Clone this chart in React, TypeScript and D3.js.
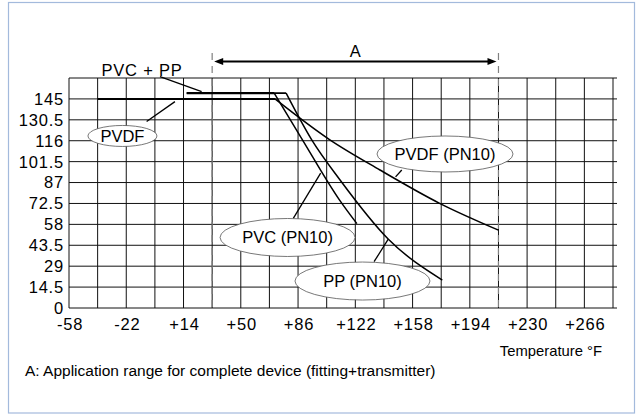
import * as d3 from "d3";

// axis ticks (°F / psi)
const tempTicks = [-58, -22, 14, 50, 86, 122, 158, 194, 230, 266];
const pressureTicks = [0, 14.5, 29, 43.5, 58, 72.5, 87, 101.5, 116, 130.5, 145];
const tempDomain: [number, number] = [-58, 284];
const pressureDomain: [number, number] = [0, 159.5];
const gridStepT = 18;
const gridStepP = 14.5;

// application range A (°F)
const rangeA: [number, number] = [32, 212];

// curves [°F, psi]
const pvdfFlat = [[-40, 145], [71.5, 145]];
const pvdfDerate = [[71.5, 145], [106, 116.6], [137.5, 95.7], [175, 72.6], [212, 54]];
const pvcFlat = [[16, 149], [71, 149]];
const pvcDerate = [[71, 149], [88, 118], [112, 75], [123, 58.5]];
const ppFlat = [[16, 149], [78.5, 149]];
const ppDerate = [[78.5, 149], [94.6, 116.6], [112.4, 88.8], [142.8, 47.7], [176.7, 19.4]];

// callouts, in data units
const callouts = [
  { text: "PVDF", c: [-24.4, 119.3], rx: 34.5, ry: 10.5, from: [-9.2, 129.3], to: [8.6, 143.1] },
  { text: "PVDF (PN10)", c: [178.4, 106.8], rx: 68, ry: 18, from: [151.2, 95.7], to: [147.3, 90.9] },
  { text: "PVC (PN10)", c: [79.4, 48.9], rx: 67.5, ry: 19, from: [83, 62.2], to: [100.2, 93.5] },
  { text: "PP (PN10)", c: [126.5, 18.7], rx: 67.5, ry: 19, from: [133.8, 32.1], to: [142.7, 47.7] },
];
const topLabel = { text: "PVC + PP", at: [-12.1, 165.1], from: [-0.8, 160.5], to: [25.4, 150.1] };

const FONT = "'Liberation Sans', Arial, Helvetica, sans-serif";

export default function App() {
  const W = 642, H = 415;
  const left = 69, right = 613, top = 78, bottom = 308;

  const x = d3.scaleLinear(tempDomain, [left, right]);
  const y = d3.scaleLinear(pressureDomain, [bottom, top]);

  const straight = d3.line<number[]>().x((d) => x(d[0])).y((d) => y(d[1]));
  const smooth = d3
    .line<number[]>()
    .x((d) => x(d[0]))
    .y((d) => y(d[1]))
    .curve(d3.curveMonotoneX);

  const vGrid = d3.range(tempDomain[0], tempDomain[1] + 1, gridStepT);
  const hGrid = d3.range(pressureDomain[0], pressureDomain[1] + 0.1, gridStepP);

  const arrowY = top - 16.5;
  const xa0 = x(rangeA[0]), xa1 = x(rangeA[1]);

  return (
    <svg width={W} height={H} style={{ position: "absolute", left: 0, top: 0, background: "#fff" }}>
      <rect x={8.5} y={2.5} width={626} height={410.5} fill="#fff" stroke="#a3badc" strokeWidth={1.2} />

      {/* grid */}
      <g stroke="#111" strokeWidth={1}>
        {hGrid.map((v) => (
          <line key={"h" + v} x1={left} x2={right + 4} y1={y(v)} y2={y(v)} />
        ))}
        {vGrid.map((v) => (
          <line key={"v" + v} x1={x(v)} x2={x(v)} y1={top} y2={bottom} />
        ))}
      </g>

      {/* application range */}
      <g stroke="#808080" strokeWidth={1.2} strokeDasharray="7,6">
        {rangeA.map((v) => (
          <line key={"d" + v} x1={x(v)} x2={x(v)} y1={top - 25} y2={bottom} />
        ))}
      </g>
      <line x1={xa0 + 6} x2={xa1 - 6} y1={arrowY} y2={arrowY} stroke="#000" strokeWidth={2} />
      <path d={`M${xa0 + 2},${arrowY} l9,-3.5 v7 z`} fill="#000" />
      <path d={`M${xa1 - 2},${arrowY} l-9,-3.5 v7 z`} fill="#000" />
      <text x={x((rangeA[0] + rangeA[1]) / 2)} y={arrowY - 5} textAnchor="middle" fontFamily={FONT} fontSize={16.5}>
        A
      </text>

      {/* curves */}
      <g fill="none" stroke="#000" strokeLinejoin="miter">
        <path d={straight(pvdfFlat)!} strokeWidth={2} />
        <path d={straight(pvcFlat)!} strokeWidth={2.4} />
        <path d={straight(ppFlat)!} strokeWidth={1.6} />
        <path d={smooth(pvdfDerate)!} strokeWidth={1.5} />
        <path d={smooth(pvcDerate)!} strokeWidth={1.5} />
        <path d={smooth(ppDerate)!} strokeWidth={1.5} />
      </g>

      {/* callouts */}
      <g stroke="#000" strokeWidth={1.3}>
        {callouts.map((c) => (
          <line key={"l" + c.text} x1={x(c.from[0])} y1={y(c.from[1])} x2={x(c.to[0])} y2={y(c.to[1])} />
        ))}
        <line x1={x(topLabel.from[0])} y1={y(topLabel.from[1])} x2={x(topLabel.to[0])} y2={y(topLabel.to[1])} />
      </g>
      {callouts.map((c) => (
        <g key={c.text}>
          <ellipse cx={x(c.c[0])} cy={y(c.c[1])} rx={c.rx} ry={c.ry} fill="#fff" stroke="#555" strokeWidth={0.8} />
          <text x={x(c.c[0])} y={y(c.c[1])} dy="0.36em" textAnchor="middle" fontFamily={FONT} fontSize={16.5}>
            {c.text}
          </text>
        </g>
      ))}
      <text x={x(topLabel.at[0])} y={y(topLabel.at[1])} dy="0.36em" textAnchor="middle" fontFamily={FONT} fontSize={16.5} letterSpacing={0.8}>
        {topLabel.text}
      </text>

      {/* axis labels */}
      <g fontFamily={FONT} fontSize={16.5} letterSpacing={0.8}>
        {pressureTicks.map((v) => (
          <text key={"yt" + v} x={left - 5} y={y(v)} dy="0.36em" textAnchor="end">
            {String(v)}
          </text>
        ))}
        {tempTicks.map((v) => (
          <text key={"xt" + v} x={x(v) + 1} y={bottom + 22} textAnchor="middle">
            {v > 0 ? "+" + v : String(v)}
          </text>
        ))}
      </g>
      <text x={602} y={356} textAnchor="end" fontFamily={FONT} fontSize={14.8}>
        Temperature °F
      </text>
      <text x={25} y={376} fontFamily={FONT} fontSize={15.5}>
        A: Application range for complete device (fitting+transmitter)
      </text>
    </svg>
  );
}
